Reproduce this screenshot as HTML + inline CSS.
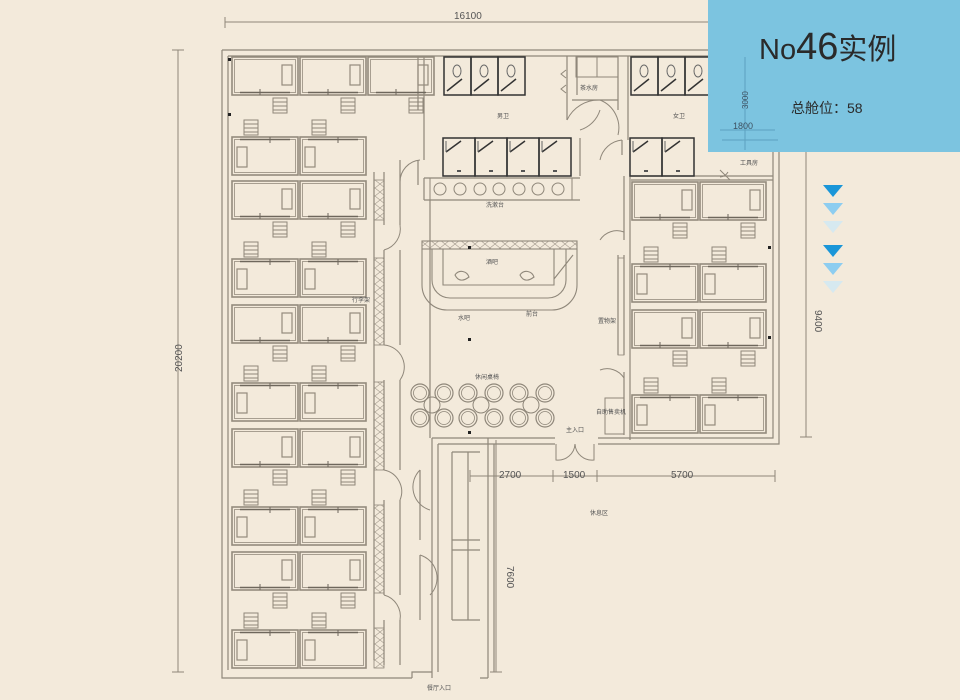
<!DOCTYPE html>
<html><head><meta charset="utf-8"><style>
html,body{margin:0;padding:0;background:#f3eadb;}
svg{display:block}
.t{font-family:"Liberation Sans","Noto Sans CJK SC",sans-serif;}
</style></head><body>
<svg width="960" height="700" viewBox="0 0 960 700" xmlns="http://www.w3.org/2000/svg">
<rect width="960" height="700" fill="#f3eadb"/>
<defs>
<g id="st"><rect x="0" y="0" width="14" height="15" fill="none" stroke="#8f877a" stroke-width="1"/><path d="M0 4H14M0 8H14M0 12H14" stroke="#8f877a" stroke-width="1"/></g>
<g id="pd" fill="none" stroke="#948b7d">
<rect x="0" y="0" width="66" height="38" stroke-width="1.6"/><rect x="2.5" y="2.5" width="61" height="33" stroke-width="0.8"/>
<rect x="50" y="8" width="10" height="20" stroke-width="1.2"/>
<path d="M8 35.5H58" stroke="#6e675c" stroke-width="1.6"/><path d="M28 32V38" stroke="#6e675c"/>
<use href="#st" x="41" y="41"/>
</g>
<g id="pu" fill="none" stroke="#948b7d">
<rect x="0" y="0" width="66" height="38" stroke-width="1.6"/><rect x="2.5" y="2.5" width="61" height="33" stroke-width="0.8"/>
<rect x="5" y="10" width="10" height="20" stroke-width="1.2"/>
<path d="M8 2.5H58" stroke="#6e675c" stroke-width="1.6"/><path d="M38 0V6" stroke="#6e675c"/>
<use href="#st" x="12" y="-17"/>
</g>
<pattern id="hat" width="10" height="8" patternUnits="userSpaceOnUse"><path d="M0 0L10 8M0 8L10 0" stroke="#a0978a" stroke-width="0.6" fill="none"/></pattern>
<g id="stall" fill="none" stroke="#333"><rect x="0" y="0" width="27" height="38" stroke-width="1.5"/><ellipse cx="13" cy="14" rx="4" ry="6" stroke="#666"/><path d="M3 34L18 22" stroke-width="1.5"/></g>
<g id="stall2" fill="none" stroke="#333"><rect x="0" y="0" width="32" height="38" stroke-width="1.5"/><path d="M3 14L18 3" stroke-width="1.5"/><path d="M3 3V14" stroke="#666"/><path d="M14 33h4" stroke="#555" stroke-width="2"/></g>
<g id="ch" fill="none" stroke="#8f877a"><circle r="9" stroke-width="1.2"/><circle r="6.5" stroke-width="0.8"/></g>
</defs>

<g stroke="#8f877a" stroke-width="1" fill="none">
<path d="M225 22H715M225 17V28M715 17V28"/>
<path d="M178 50V672M172 50H184M172 672H184"/>
<path d="M806 152V437M800 437H812"/>
<path d="M496 440V672M490 672H502"/>
<path d="M470 476H775M470 470V482M553 470V482M597 470V482M775 470V482"/>
</g>
<g class="t" fill="#555" font-size="10">
<text x="454" y="19">16100</text>
<text x="182" y="372" transform="rotate(-90 182 372)">20200</text>
<text x="815" y="310" transform="rotate(90 815 310)">9400</text>
<text x="507" y="566" transform="rotate(90 507 566)">7600</text>
<text x="499" y="478">2700</text>
<text x="563" y="478">1500</text>
<text x="671" y="478">5700</text>
</g>

<g fill="none" stroke="#8f877a" stroke-width="1.2">
<path d="M222 50H720M222 50V678H412M228 56V670M228 56H720"/>
<path d="M773 152V438H598M779 152V444H598"/>
<path d="M432 438V678M438 444V672M432 438H555M438 444H555"/>
<path d="M488 438V678M494 444V672M488 678H480"/>
<path d="M412 678V672H432"/>
<path d="M374 172V660M384 172V225M384 250V345M384 380V470M384 500V595M384 620V665"/>
<path d="M400 160V225M400 250V345M400 380V470M400 500V595M400 620V665"/>
<path d="M418 160V185M418 56V110M424 56V160M424 178V200"/>
<path d="M430 438V200M424 200H580M424 178H580"/>
<path d="M577 56V95M567 56V120M618 56V110M628 56V140M622 140V155"/>
<path d="M624 176V240M630 176V440M624 255V355M624 372V435M618 255V355"/>
<path d="M631 176H773M631 180H773"/>
<path d="M572 100H618M580 138V176"/>
<path d="M452 452V620M468 452V620M452 452H480M452 550H480M452 620H480M452 540H480M420 470V540M420 555V620"/>
</g>
<g fill="url(#hat)" stroke="#8f877a" stroke-width="0.8">
<rect x="374" y="180" width="10" height="40"/>
<rect x="374" y="258" width="10" height="87"/>
<rect x="374" y="382" width="10" height="88"/>
<rect x="374" y="505" width="10" height="88"/>
<rect x="374" y="628" width="10" height="40"/>
<rect x="618" y="258" width="6" height="97" fill="none"/>
</g>
<g fill="none" stroke="#8f877a" stroke-width="1">
<path d="M400 182A22 22 0 0 1 420 160"/>
<path d="M384 250A22 22 0 0 0 400 225"/>
<path d="M384 345A22 22 0 0 1 400 380"/>
<path d="M384 470A22 22 0 0 1 400 500"/>
<path d="M384 595A22 22 0 0 1 400 620"/>
<path d="M420 470A24 24 0 0 0 430 510"/>
<path d="M420 555A24 24 0 0 1 430 595"/>
<path d="M567 120A35 35 0 0 1 600 100"/>
<path d="M600 100A30 30 0 0 1 618 135"/>
<path d="M580 130A30 30 0 0 0 600 110"/>
<path d="M622 140A25 25 0 0 0 600 160"/>
<path d="M600 240A20 20 0 0 1 624 232"/>
<path d="M600 370A20 20 0 0 1 624 378"/>
<path d="M556 444V460A17 17 0 0 0 575 444M594 444V460A17 17 0 0 1 575 444"/>
<path d="M720 170L730 180M720 177A10 10 0 0 0 728 172"/>
</g>

<use href="#pd" x="232" y="57"/><use href="#pd" x="300" y="57"/><use href="#pd" x="368" y="57"/>
<use href="#pu" x="232" y="137"/><use href="#pu" x="300" y="137"/>
<use href="#pd" x="232" y="181"/><use href="#pd" x="300" y="181"/>
<use href="#pu" x="232" y="259"/><use href="#pu" x="300" y="259"/>
<use href="#pd" x="232" y="305"/><use href="#pd" x="300" y="305"/>
<use href="#pu" x="232" y="383"/><use href="#pu" x="300" y="383"/>
<use href="#pd" x="232" y="429"/><use href="#pd" x="300" y="429"/>
<use href="#pu" x="232" y="507"/><use href="#pu" x="300" y="507"/>
<use href="#pd" x="232" y="552"/><use href="#pd" x="300" y="552"/>
<use href="#pu" x="232" y="630"/><use href="#pu" x="300" y="630"/>
<use href="#pd" x="632" y="182"/><use href="#pd" x="700" y="182"/>
<use href="#pu" x="632" y="264"/><use href="#pu" x="700" y="264"/>
<use href="#pd" x="632" y="310"/><use href="#pd" x="700" y="310"/>
<use href="#pu" x="632" y="395"/><use href="#pu" x="700" y="395"/>

<use href="#stall" x="444" y="57"/><use href="#stall" x="471" y="57"/><use href="#stall" x="498" y="57"/>
<use href="#stall" x="631" y="57"/><use href="#stall" x="658" y="57"/><use href="#stall" x="685" y="57"/>
<use href="#stall2" x="443" y="138"/><use href="#stall2" x="475" y="138"/><use href="#stall2" x="507" y="138"/><use href="#stall2" x="539" y="138"/>
<use href="#stall2" x="630" y="138"/><use href="#stall2" x="662" y="138"/>
<rect x="430" y="178" width="142" height="22" fill="none" stroke="#8f877a"/>
<g fill="none" stroke="#8f877a"><circle cx="440" cy="189" r="6"/><circle cx="460" cy="189" r="6"/><circle cx="480" cy="189" r="6"/><circle cx="499" cy="189" r="6"/><circle cx="519" cy="189" r="6"/><circle cx="538" cy="189" r="6"/><circle cx="558" cy="189" r="6"/>
<rect x="576" y="57" width="42" height="20"/><path d="M597 57V77"/>
<path d="M566 70l-5 4 5 4M566 85l-5 4 5 4"/>
</g>

<g fill="none" stroke="#8f877a" stroke-width="1.1">
<rect x="422" y="241" width="155" height="8" fill="url(#hat)"/>
<path d="M422 249V285A25 25 0 0 0 447 310H552A25 25 0 0 0 577 285V249"/>
<path d="M432 249V280A18 18 0 0 0 450 298H548A18 18 0 0 0 566 280V249"/>
<path d="M443 249V285H554V249M554 279L573 255"/>
<path d="M455 275c4-6 12-4 14 2c-4 3-10 6-14-2zM520 275c4-6 12-4 14 2c-4 3-10 6-14-2z"/>
</g>
<use href="#ch" x="420" y="393"/><use href="#ch" x="444" y="393"/><use href="#ch" x="468" y="393"/><use href="#ch" x="494" y="393"/><use href="#ch" x="519" y="393"/><use href="#ch" x="545" y="393"/>
<use href="#ch" x="420" y="418"/><use href="#ch" x="444" y="418"/><use href="#ch" x="468" y="418"/><use href="#ch" x="494" y="418"/><use href="#ch" x="519" y="418"/><use href="#ch" x="545" y="418"/>
<g fill="none" stroke="#8f877a"><circle cx="432" cy="405" r="8"/><circle cx="481" cy="405" r="8"/><circle cx="531" cy="405" r="8"/>
<rect x="605" y="398" width="19" height="36"/></g>
<g fill="#222"><rect x="228" y="58" width="3" height="3"/><rect x="228" y="113" width="3" height="3"/><rect x="468" y="338" width="3" height="3"/><rect x="468" y="431" width="3" height="3"/><rect x="468" y="246" width="3" height="3"/><rect x="768" y="246" width="3" height="3"/><rect x="768" y="336" width="3" height="3"/></g>

<g class="t" fill="#555" font-size="6">
<text x="497" y="118">男卫</text><text x="673" y="118">女卫</text>
<text x="580" y="90">茶水房</text><text x="740" y="165">工具房</text>
<text x="486" y="207">洗漱台</text><text x="486" y="264">酒吧</text>
<text x="458" y="320">水吧</text><text x="526" y="316">前台</text>
<text x="352" y="302">行李架</text><text x="598" y="323">置物架</text>
<text x="475" y="379">休闲桌椅</text><text x="596" y="414">自助售卖机</text>
<text x="566" y="432">主入口</text><text x="590" y="515">休息区</text>
<text x="427" y="690">餐厅入口</text>
</g>

<rect x="708" y="0" width="252" height="152" fill="#7cc4e0"/>
<g stroke="#4a8aa8" stroke-width="1" fill="none" opacity="0.6"><path d="M745 57V150M720 130H775M722 140H778"/></g>
<g class="t" fill="#3d5060"><text x="735" y="112" font-size="8" transform="rotate(-90 740 104)">3000</text><text x="733" y="129" font-size="9">1800</text></g>
<text class="t" x="759" y="59" font-size="29" fill="#2a2a2a">No<tspan font-size="38">46</tspan>实例</text>
<text class="t" x="791" y="113" font-size="14" fill="#2a2a2a">总舱位：58</text>

<path d="M823 185h20l-10 12z" fill="#1a96d8"/>
<path d="M823 203h20l-10 12z" fill="#8dcdf0"/>
<path d="M823 221h20l-10 12z" fill="#d6e9f0"/>
<path d="M823 245h20l-10 12z" fill="#1a96d8"/>
<path d="M823 263h20l-10 12z" fill="#8dcdf0"/>
<path d="M823 281h20l-10 12z" fill="#d6e9f0"/>
</svg>
</body></html>
